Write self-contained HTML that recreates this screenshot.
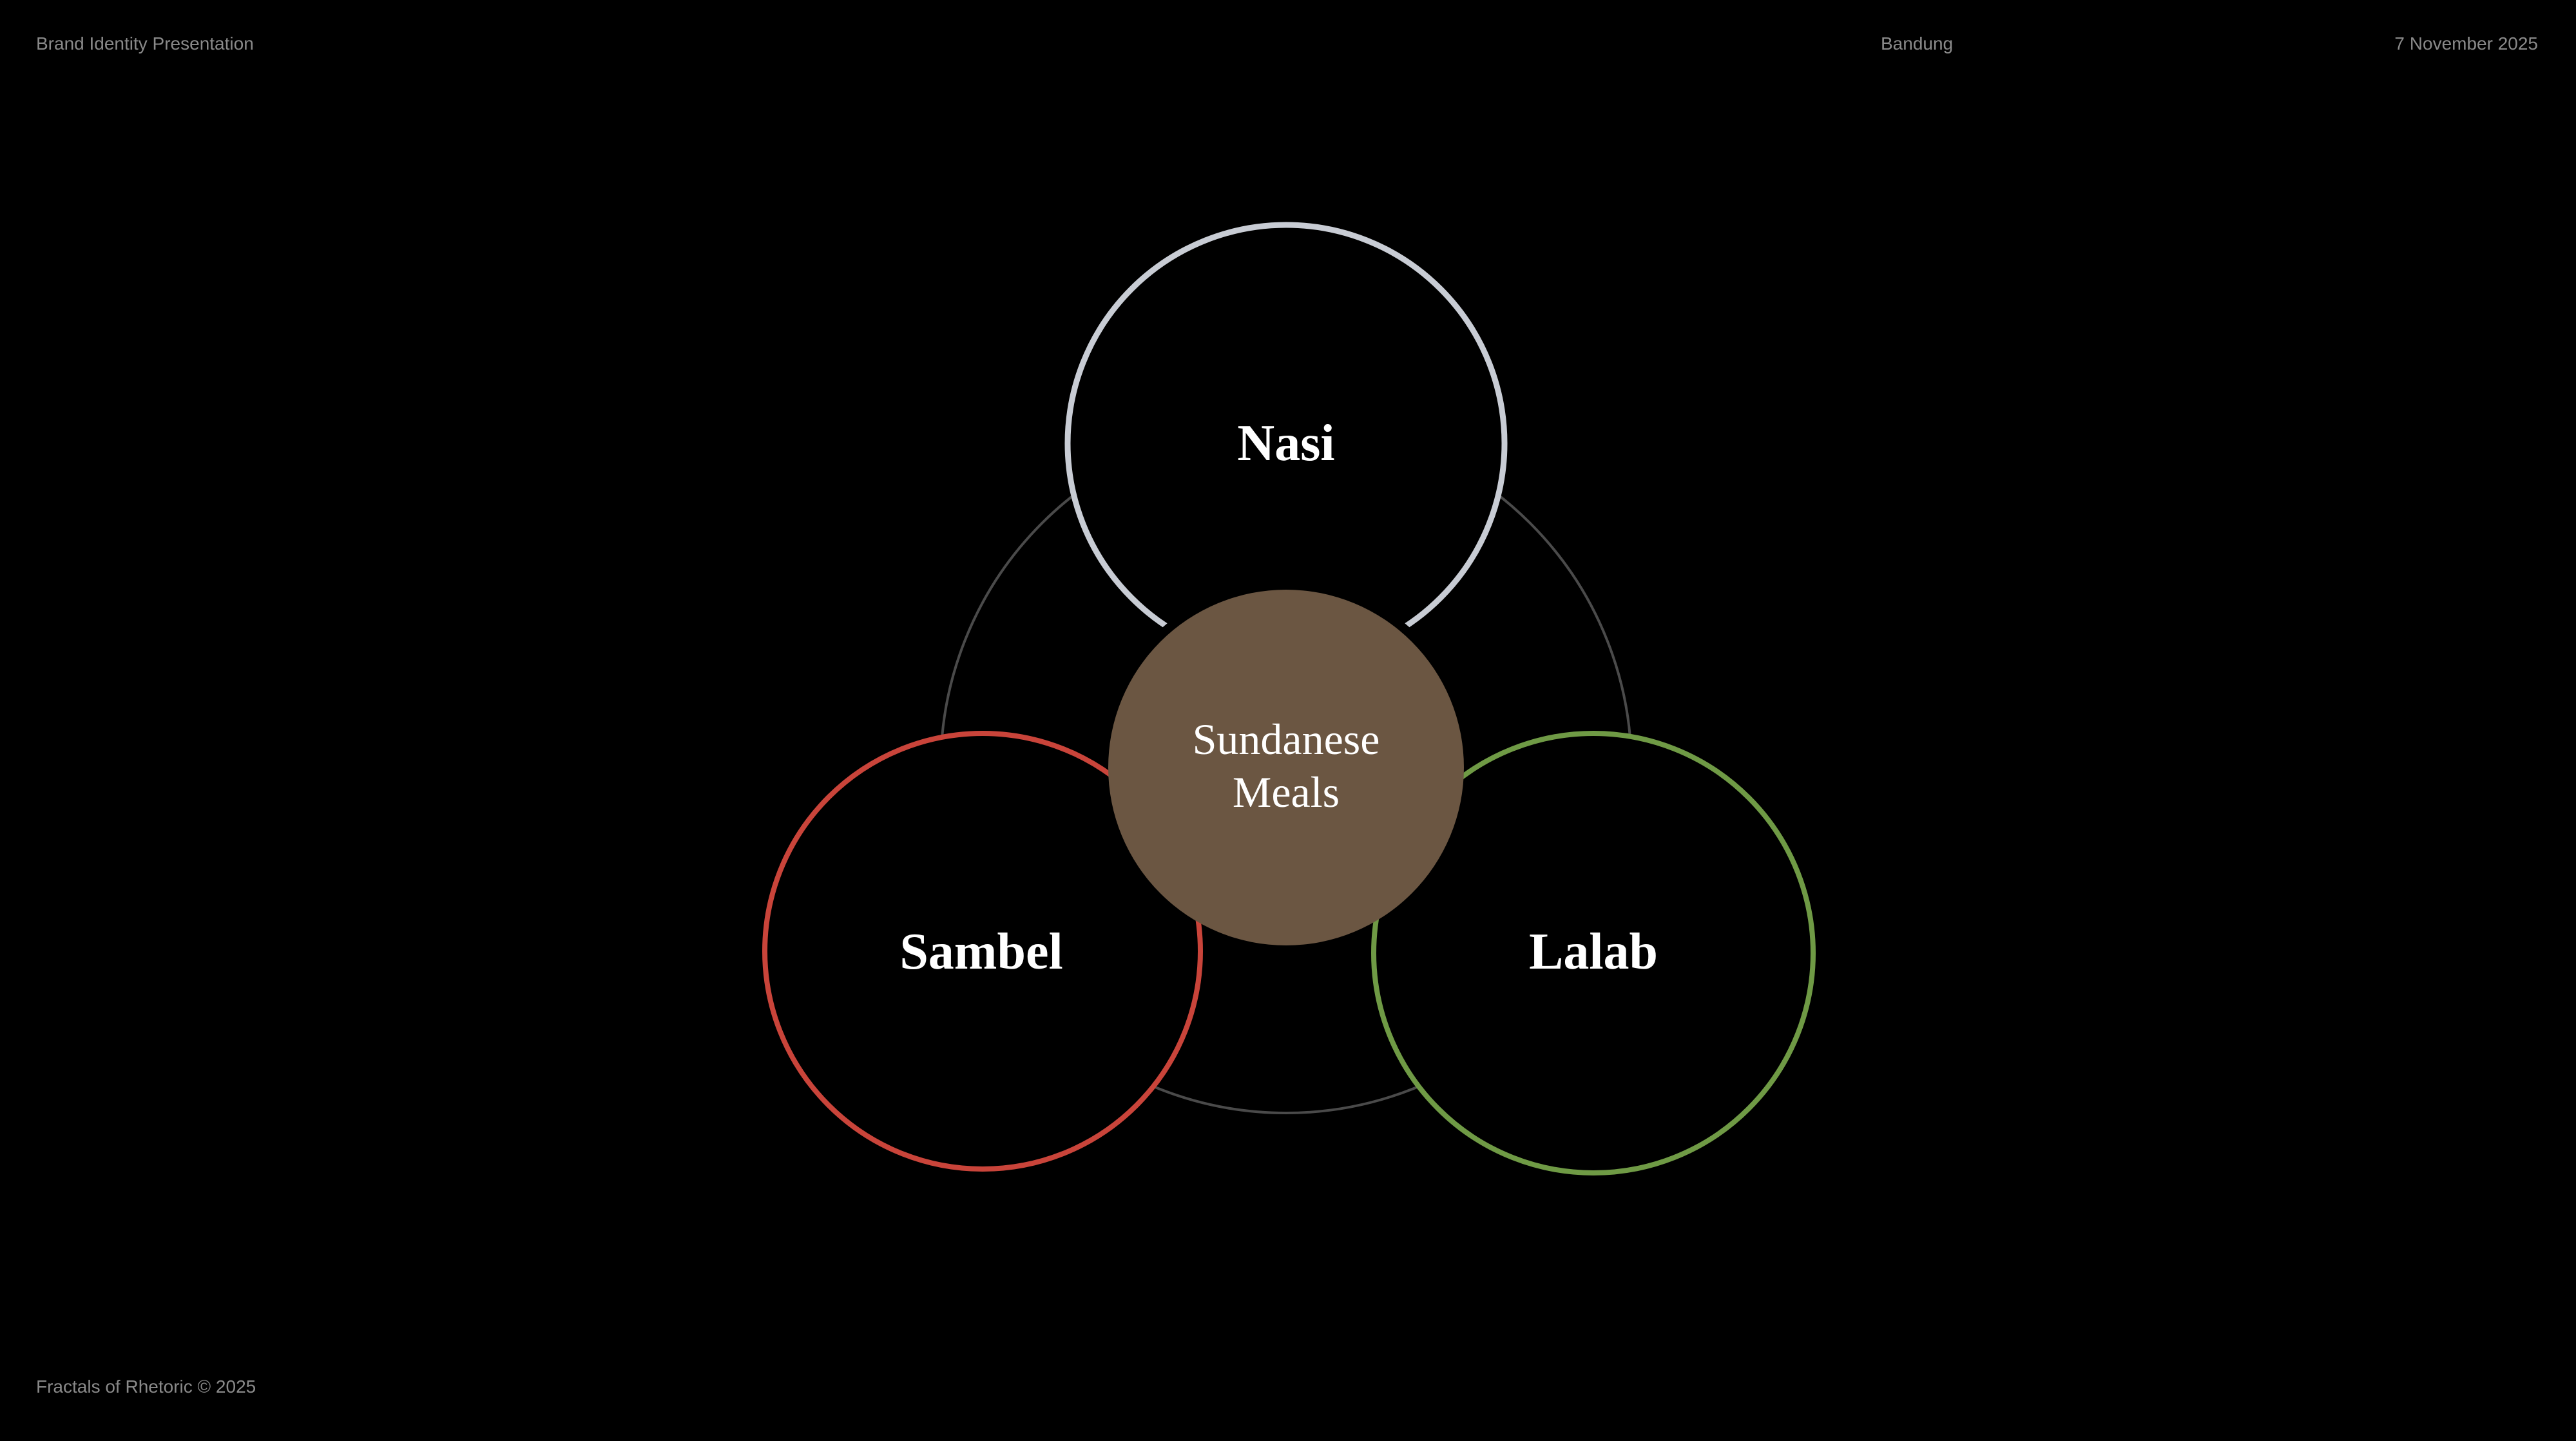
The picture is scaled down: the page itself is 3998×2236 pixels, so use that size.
<!DOCTYPE html>
<html><head><meta charset="utf-8"><style>
html,body{margin:0;padding:0;background:#000;}
body{width:3998px;height:2236px;overflow:hidden;position:relative;}
.t{position:absolute;color:#8a8a8a;font-family:"Liberation Sans",sans-serif;font-size:28px;}
</style></head><body>
<div class="t" style="left:56px;top:52px;">Brand Identity Presentation</div>
<div class="t" style="left:2919px;top:52px;">Bandung</div>
<div class="t" style="right:59px;top:52px;">7 November 2025</div>
<div class="t" style="left:56px;top:2136px;">Fractals of Rhetoric © 2025</div>
<svg width="3998" height="2236" style="position:absolute;left:0;top:0" xmlns="http://www.w3.org/2000/svg">
<circle cx="1996" cy="1191" r="536" fill="none" stroke="#4a4a4a" stroke-width="4"/>
<circle cx="1996" cy="688" r="339" fill="#000" stroke="#c8ccd4" stroke-width="9"/>
<circle cx="1996" cy="1191" r="290" fill="#000"/>
<circle cx="1525" cy="1476" r="338" fill="#000" stroke="#c9443a" stroke-width="8"/>
<circle cx="2473" cy="1479" r="341" fill="#000" stroke="#6f9a45" stroke-width="8"/>
<circle cx="1996" cy="1191" r="276" fill="#6b5642"/>
<g font-family="Liberation Serif, serif" fill="#fff" text-anchor="middle">
<text x="1996" y="714" font-size="80" font-weight="bold">Nasi</text>
<text x="1523" y="1503" font-size="80" font-weight="bold">Sambel</text>
<text x="2473" y="1503" font-size="80" font-weight="bold">Lalab</text>
<text x="1996" y="1170" font-size="68">Sundanese</text>
<text x="1996" y="1252" font-size="68">Meals</text>
</g>
</svg>
</body></html>
